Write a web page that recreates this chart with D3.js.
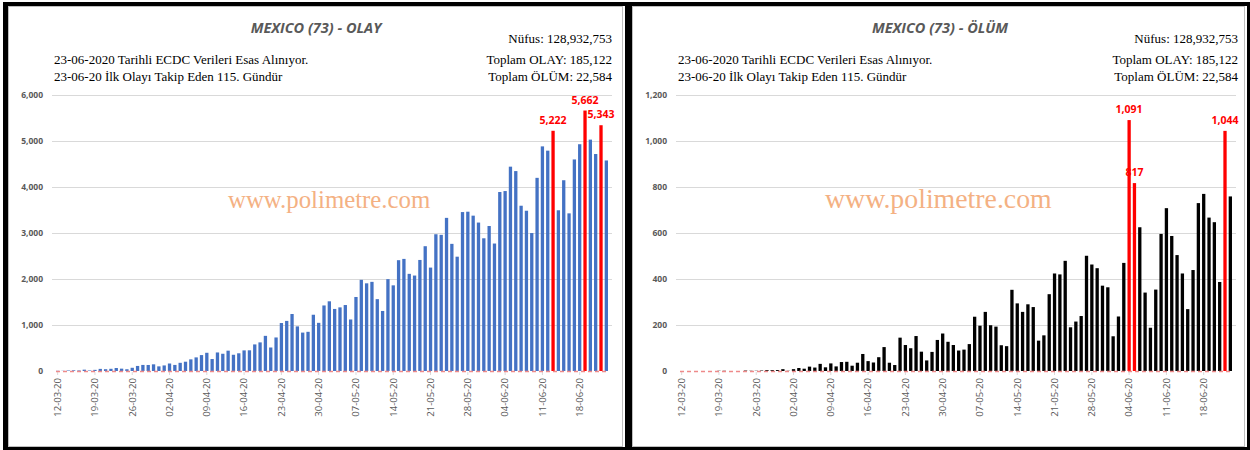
<!DOCTYPE html>
<html><head><meta charset="utf-8">
<script src="https://cdn.jsdelivr.net/npm/d3@7"></script>
<style>body{margin:0;background:#fff}svg{display:block}</style>
</head><body>
<svg id="c" width="1250" height="450"></svg>
<script>
const dates = [
"12-03-20","13-03-20","14-03-20","15-03-20","16-03-20","17-03-20","18-03-20","19-03-20","20-03-20","21-03-20",
"22-03-20","23-03-20","24-03-20","25-03-20","26-03-20","27-03-20","28-03-20","29-03-20","30-03-20","31-03-20",
"01-04-20","02-04-20","03-04-20","04-04-20","05-04-20","06-04-20","07-04-20","08-04-20","09-04-20","10-04-20",
"11-04-20","12-04-20","13-04-20","14-04-20","15-04-20","16-04-20","17-04-20","18-04-20","19-04-20","20-04-20",
"21-04-20","22-04-20","23-04-20","24-04-20","25-04-20","26-04-20","27-04-20","28-04-20","29-04-20","30-04-20",
"01-05-20","02-05-20","03-05-20","04-05-20","05-05-20","06-05-20","07-05-20","08-05-20","09-05-20","10-05-20",
"11-05-20","12-05-20","13-05-20","14-05-20","15-05-20","16-05-20","17-05-20","18-05-20","19-05-20","20-05-20",
"21-05-20","22-05-20","23-05-20","24-05-20","25-05-20","26-05-20","27-05-20","28-05-20","29-05-20","30-05-20",
"31-05-20","01-06-20","02-06-20","03-06-20","04-06-20","05-06-20","06-06-20","07-06-20","08-06-20","09-06-20",
"10-06-20","11-06-20","12-06-20","13-06-20","14-06-20","15-06-20","16-06-20","17-06-20","18-06-20","19-06-20",
"20-06-20","21-06-20","22-06-20","23-06-20"];
const tickLabels = ["12-03-20","19-03-20","26-03-20","02-04-20","09-04-20","16-04-20","23-04-20","30-04-20",
"07-05-20","14-05-20","21-05-20","28-05-20","04-06-20","11-06-20","18-06-20"];
const cases = [
4,4,11,15,12,29,11,25,46,39,48,65,51,38,70,110,132,131,145,101,
121,163,132,178,202,253,296,346,396,260,403,375,442,353,385,448,450,578,622,764,511,729,1043,1089,1239,970,835,852,1223,1047,
1425,1515,1349,1383,1434,1120,1609,1982,1906,1938,1562,1305,1997,1862,2409,2437,2112,2075,2414,2713,2248,2973,2960,3329,2764,2485,3455,3463,3377,3227,2885,
3152,2771,3891,3912,4442,4346,3593,3484,2999,4199,4883,4790,5222,3494,4147,3427,4599,4930,5662,5030,4717,5343,4577];
const deaths = [
0,0,0,0,0,0,0,1,1,0,0,0,2,1,1,2,4,4,4,8,
1,8,13,10,19,15,31,16,33,20,39,40,23,36,74,43,37,60,104,36,26,145,113,99,152,84,46,83,135,163,
127,113,89,93,117,236,197,257,199,193,112,108,353,294,257,290,278,132,155,334,424,420,479,190,215,239,501,463,447,371,364,
151,237,470,1091,817,625,341,188,354,596,708,587,504,424,269,439,730,770,667,647,387,1044,759];
const casesRed = ["13-06-20","19-06-20","22-06-20"];
const deathsRed = ["04-06-20","05-06-20","22-06-20"];
const casesTicks = [0,1000,2000,3000,4000,5000,6000];
const deathsTicks = [0,200,400,600,800,1000,1200];
const titles = ["MEXICO (73) - OLAY","MEXICO (73) - ÖLÜM"];
const infoLeft = ["23-06-2020 Tarihli ECDC Verileri Esas Alınıyor.","23-06-20 İlk Olayı Takip Eden 115. Gündür"];
const infoRight = ["Nüfus: 128,932,753","Toplam OLAY: 185,122","Toplam ÖLÜM: 22,584"];
const watermark = "www.polimetre.com";

const svg = d3.select("#c");
svg.append("rect").attr("x",3).attr("y",2).attr("width",1247).attr("height",448).attr("fill","#000");
[[8,617],[632,615]].forEach(([x,w])=>{
  svg.append("rect").attr("x",x).attr("y",6).attr("width",w).attr("height",441).attr("fill","#fff");
  svg.append("rect").attr("x",x+0.5).attr("y",6.5).attr("width",w-3).attr("height",440).attr("fill","none").attr("stroke","#bfbfbf");
});
const fmt = d3.format(",");

function panel(o){
  const g = svg.append("g");
  const x = d3.scaleBand().domain(dates).range([o.x0,o.x1]).paddingInner(0.38).paddingOuter(0.19);
  const y = d3.scaleLinear().domain([0,o.ticks[o.ticks.length-1]]).range([371,95]);
  g.append("text").attr("x",o.tx).attr("y",33).attr("text-anchor","middle")
    .style("font","italic bold 14.5px 'Open Sans'").attr("fill","#595959").text(o.title);
  infoLeft.forEach((t,i)=>g.append("text").attr("x",o.lx).attr("y",[64,81][i])
    .style("font","13px 'Liberation Serif'").attr("fill","#000").text(t));
  infoRight.forEach((t,i)=>g.append("text").attr("x",o.rx).attr("y",[43,64,81][i]).attr("text-anchor","end")
    .style("font","13px 'Liberation Serif'").attr("fill","#000").text(t));
  g.append("g").selectAll("line").data(o.ticks.slice(1)).join("line")
    .attr("x1",o.x0-3).attr("x2",o.x1+3).attr("y1",d=>Math.round(y(d))+0.5).attr("y2",d=>Math.round(y(d))+0.5)
    .attr("stroke","#d9d9d9").attr("stroke-width",1);
  const ya = g.append("g").attr("transform",`translate(${o.x0-9},0)`)
    .call(d3.axisLeft(y).tickValues(o.ticks).tickSize(0).tickFormat(fmt));
  ya.select(".domain").remove();
  ya.selectAll("text").style("font","bold 8.5px 'Open Sans'").attr("fill","#595959");
  const xa = g.append("g").attr("transform","translate(0,372)")
    .call(d3.axisBottom(x).tickValues(tickLabels).tickSize(3));
  xa.select(".domain").remove();
  xa.selectAll("line").attr("stroke","#d9d9d9");
  xa.selectAll("text").attr("transform","rotate(-90)").attr("text-anchor","end")
    .attr("x",-6).attr("y",0).attr("dy","0.35em")
    .style("font","9.5px 'Open Sans'").attr("fill","#595959");
  g.append("text").attr("x",o.wx).attr("y",208).style("font",`${o.ws}px 'Liberation Serif'`)
    .attr("fill","#f4b183").text(watermark);
  const vals = o.values.map((v,i)=>({d:dates[i],v}));
  g.append("g").selectAll("text").data(vals.filter(p=>o.red.includes(p.d))).join("text")
    .attr("x",p=>x(p.d)+x.bandwidth()/2).attr("y",p=>y(p.v)-7).attr("text-anchor","middle")
    .style("font","bold 10.5px 'Open Sans'").attr("fill","#ff0000").text(p=>fmt(p.v));
  g.append("g").selectAll("rect").data(vals).join("rect")
    .attr("x",p=>x(p.d)).attr("width",x.bandwidth())
    .attr("y",p=>y(p.v)).attr("height",p=>371-y(p.v))
    .attr("fill",p=>o.red.includes(p.d)?"#ff0000":o.color);
  g.append("line").attr("x1",o.x0+1).attr("x2",o.x1).attr("y1",371.5).attr("y2",371.5)
    .attr("stroke","#ee8a8a").attr("stroke-width",1.5).attr("stroke-dasharray","4,3");
}

panel({x0:55,x1:609,ticks:casesTicks,values:cases,red:casesRed,color:"#4472c4",title:titles[0],
  tx:316,lx:54,rx:612,wx:228,ws:24.8});
panel({x0:679,x1:1233,ticks:deathsTicks,values:deaths,red:deathsRed,color:"#000000",title:titles[1],
  tx:940,lx:678,rx:1238,wx:825,ws:27.8});
</script>
</body></html>
